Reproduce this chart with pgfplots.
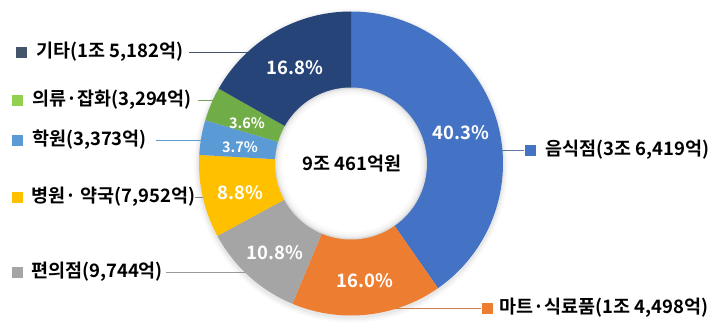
\documentclass[border=0pt]{standalone}
\usepackage{pgfplots}
\pgfplotsset{compat=1.18}
\usepackage{pgfplotstable}
\usepackage{fontspec}
\setmainfont{Noto Sans CJK KR}
\newfontfamily\krb{Noto Sans CJK KR Bold}

\definecolor{cA}{HTML}{4472C4}
\definecolor{cB}{HTML}{ED7D31}
\definecolor{cC}{HTML}{A5A5A5}
\definecolor{cD}{HTML}{FFC000}
\definecolor{cE}{HTML}{5B9BD5}
\definecolor{cF}{HTML}{70AD47}
\definecolor{cG}{HTML}{264478}
\definecolor{kG}{HTML}{44546A}
\definecolor{kF}{HTML}{92D050}

% share of each category (%), clockwise from 12 o'clock
\pgfplotstableread{
idx pct
0 40.3
1 16.0
2 10.8
3 8.8
4 3.7
5 3.6
6 16.8
}\datatable

\pgfplotstablegetelem{0}{pct}\of\datatable \let\pa\pgfplotsretval
\pgfplotstablegetelem{1}{pct}\of\datatable \let\pb\pgfplotsretval
\pgfplotstablegetelem{2}{pct}\of\datatable \let\pc\pgfplotsretval
\pgfplotstablegetelem{3}{pct}\of\datatable \let\pd\pgfplotsretval
\pgfplotstablegetelem{4}{pct}\of\datatable \let\pe\pgfplotsretval
\pgfplotstablegetelem{5}{pct}\of\datatable \let\pf\pgfplotsretval
\pgfplotstablegetelem{6}{pct}\of\datatable \let\pg\pgfplotsretval
\pgfmathsetmacro\angA{90}
\pgfmathsetmacro\angB{\angA-3.6*\pa}
\pgfmathsetmacro\angC{\angB-3.6*\pb}
\pgfmathsetmacro\angD{\angC-3.6*\pc}
\pgfmathsetmacro\angE{\angD-3.6*\pd}
\pgfmathsetmacro\angF{\angE-3.6*\pe}
\pgfmathsetmacro\angG{\angF-3.6*\pf}
\pgfmathsetmacro\angH{\angG-3.6*\pg}

\def\cx{351}
\def\cy{170.5}
\def\R{152}
\def\r{76}

\newcommand\lab{\krb\fontsize{18.5bp}{20bp}\selectfont}
\newcommand\pctf{\krb\fontsize{18.5bp}{20bp}\selectfont}
\newcommand\pcts{\krb\fontsize{14.5bp}{16bp}\selectfont}

\begin{document}
\begin{tikzpicture}
\begin{axis}[width=720bp, height=334bp, scale only axis,
  xmin=0, xmax=720, ymin=0, ymax=334, hide axis, clip=false]
\path (axis cs:0,0) rectangle (axis cs:720,334);

% outer soft shadow
\addplot[fill=black, opacity=0.025, draw=none, domain=0:360, samples=120, variable=\t] ({\cx+(\R+5)*cos(\t)},{\cy-2+(\R+5)*sin(\t)}) -- cycle;
\addplot[fill=black, opacity=0.03, draw=none, domain=0:360, samples=120, variable=\t] ({\cx+(\R+3)*cos(\t)},{\cy-2+(\R+3)*sin(\t)}) -- cycle;
\addplot[fill=black, opacity=0.04, draw=none, domain=0:360, samples=120, variable=\t] ({\cx+(\R+1.5)*cos(\t)},{\cy-1.5+(\R+1.5)*sin(\t)}) -- cycle;

% leader lines
\addplot[draw=kG, line width=0.8pt] coordinates {(189,282) (255,282)};
\addplot[draw=cF!70!gray, line width=0.8pt] coordinates {(198,234) (220,234)};
\addplot[draw=cE, line width=0.8pt] coordinates {(156,194) (210,194)};
\addplot[draw=gray, line width=0.8pt] coordinates {(195,137) (210,137)};
\addplot[draw=gray!80, line width=0.8pt] coordinates {(166,62) (250,62)};
\addplot[draw=cA!60!gray, line width=0.8pt] coordinates {(495,184) (524,184)};
\addplot[draw=cB!70!gray, line width=0.8pt] coordinates {(395,26) (481,26)};

% slices
\addplot[fill=cA, draw=none, domain=\angB:\angA, samples=120, variable=\t] ({\cx+\R*cos(\t)},{\cy+\R*sin(\t)}) -- (axis cs:\cx,\cy) -- cycle;
\addplot[fill=cB, draw=none, domain=\angC:\angB, samples=60, variable=\t] ({\cx+\R*cos(\t)},{\cy+\R*sin(\t)}) -- (axis cs:\cx,\cy) -- cycle;
\addplot[fill=cC, draw=none, domain=\angD:\angC, samples=50, variable=\t] ({\cx+\R*cos(\t)},{\cy+\R*sin(\t)}) -- (axis cs:\cx,\cy) -- cycle;
\addplot[fill=cD, draw=none, domain=\angE:\angD, samples=40, variable=\t] ({\cx+\R*cos(\t)},{\cy+\R*sin(\t)}) -- (axis cs:\cx,\cy) -- cycle;
\addplot[fill=cE, draw=none, domain=\angF:\angE, samples=20, variable=\t] ({\cx+\R*cos(\t)},{\cy+\R*sin(\t)}) -- (axis cs:\cx,\cy) -- cycle;
\addplot[fill=cF, draw=none, domain=\angG:\angF, samples=20, variable=\t] ({\cx+\R*cos(\t)},{\cy+\R*sin(\t)}) -- (axis cs:\cx,\cy) -- cycle;
\addplot[fill=cG, draw=none, domain=\angH:\angG, samples=60, variable=\t] ({\cx+\R*cos(\t)},{\cy+\R*sin(\t)}) -- (axis cs:\cx,\cy) -- cycle;

% hole with inner shadow
\addplot[fill=gray!30, draw=none, domain=0:360, samples=120, variable=\t] ({\cx+\r*cos(\t)},{\cy+\r*sin(\t)}) -- cycle;
\addplot[fill=gray!18, draw=none, domain=0:360, samples=120, variable=\t] ({\cx+(\r-1.2)*cos(\t)},{\cy+(\r-1.2)*sin(\t)}) -- cycle;
\addplot[fill=gray!10, draw=none, domain=0:360, samples=120, variable=\t] ({\cx+(\r-2.6)*cos(\t)},{\cy+(\r-2.6)*sin(\t)}) -- cycle;
\addplot[fill=gray!5, draw=none, domain=0:360, samples=120, variable=\t] ({\cx+(\r-4.5)*cos(\t)},{\cy+(\r-4.5)*sin(\t)}) -- cycle;
\addplot[fill=white, draw=none, domain=0:360, samples=120, variable=\t] ({\cx+(\r-7)*cos(\t)},{\cy+(\r-7)*sin(\t)}) -- cycle;

% legend keys
\addplot[only marks, mark=square*, mark size=5.2bp, mark options={fill=kG, draw=kG}] coordinates {(21,282)};
\addplot[only marks, mark=square*, mark size=5.2bp, mark options={fill=kF, draw=kF}] coordinates {(17,234)};
\addplot[only marks, mark=square*, mark size=5.2bp, mark options={fill=cE, draw=cE}] coordinates {(17,194)};
\addplot[only marks, mark=square*, mark size=5.2bp, mark options={fill=cD, draw=cD}] coordinates {(17,137)};
\addplot[only marks, mark=square*, mark size=5.2bp, mark options={fill=cC, draw=cC}] coordinates {(17,62)};
\addplot[only marks, mark=square*, mark size=5.2bp, mark options={fill=cA, draw=cA}] coordinates {(530,184)};
\addplot[only marks, mark=square*, mark size=5.2bp, mark options={fill=cB, draw=cB}] coordinates {(487,26)};

% category labels
\node[anchor=west, inner sep=0pt, font=\lab] at (axis cs:36,282) {기타(1조 5,182억)};
\node[anchor=west, inner sep=0pt, font=\lab] at (axis cs:32,234) {의류·잡화(3,294억)};
\node[anchor=west, inner sep=0pt, font=\lab] at (axis cs:32,194) {학원(3,373억)};
\node[anchor=west, inner sep=0pt, font=\lab] at (axis cs:31,137) {병원· 약국(7,952억)};
\node[anchor=west, inner sep=0pt, font=\lab] at (axis cs:31,62) {편의점(9,744억)};
\node[anchor=west, inner sep=0pt, font=\lab] at (axis cs:545,184) {음식점(3조 6,419억)};
\node[anchor=west, inner sep=0pt, font=\lab] at (axis cs:499,26) {마트·식료품(1조 4,498억)};

% percentage labels
\node[text=white, font=\pctf] at (axis cs:461,201) {40.3\%};
\node[text=white, font=\pctf] at (axis cs:365,53) {16.0\%};
\node[text=white, font=\pctf] at (axis cs:275,81) {10.8\%};
\node[text=white, font=\pctf] at (axis cs:240,141) {8.8\%};
\node[text=white, font=\pcts] at (axis cs:240,187) {3.7\%};
\node[text=white, font=\pcts] at (axis cs:247,211) {3.6\%};
\node[text=white, font=\pctf] at (axis cs:295,266) {16.8\%};

% total
\node[text=black, font=\pctf] at (axis cs:352,170) {9조 461억원};
\end{axis}
\end{tikzpicture}
\end{document}
